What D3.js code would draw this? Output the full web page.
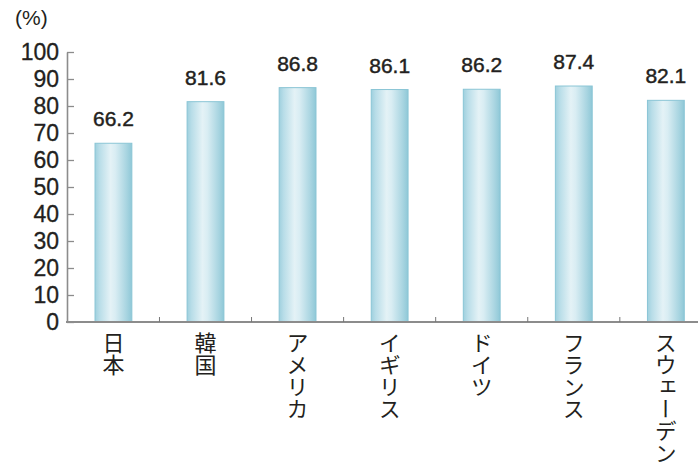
<!DOCTYPE html>
<html><head><meta charset="utf-8">
<script src="https://cdn.jsdelivr.net/npm/d3@7"></script>
<style>
html,body{margin:0;padding:0;background:#fff;}
svg{display:block;}
</style></head>
<body>
<svg id="chart" width="698" height="470"></svg>
<script>
const categories = ["日本","韓国","アメリカ","イギリス","ドイツ","フランス","スウェーデン"];
const values = [66.2, 81.6, 86.8, 86.1, 86.2, 87.4, 82.1];
const yTicks = [0,10,20,30,40,50,60,70,80,90,100];
const unitLabel = "(%)";

const svg = d3.select("#chart");
const textColor = "#231f20";
const axisColor = "#8c8c8c";
const latin = "'Liberation Sans', Arial, sans-serif";
const cjk = "'Noto Sans CJK JP', sans-serif";

const x = d3.scaleBand().domain(categories).range([67.4, 711.9]).paddingInner(0.6).paddingOuter(0.3);
const y = d3.scaleLinear().domain([0,100]).range([322, 52]);

const defs = svg.append("defs");
const grad = defs.append("linearGradient").attr("id","barGrad").attr("x1","0").attr("x2","1").attr("y1","0").attr("y2","0");
[["0%","#9fd0de"],["12%","#b8dde8"],["42%","#e4f2f6"],["55%","#d9edf3"],["85%","#a9d5e1"],["100%","#8fc8d7"]]
  .forEach(([o,c]) => grad.append("stop").attr("offset",o).attr("stop-color",c));

// bars
svg.append("g").selectAll("rect").data(categories).join("rect")
  .attr("x", d => x(d))
  .attr("y", (d,i) => y(values[i]))
  .attr("width", x.bandwidth())
  .attr("height", (d,i) => y(0) - y(values[i]))
  .attr("fill", "url(#barGrad)")
  .attr("stroke", "#8ac5d5")
  .attr("stroke-width", 1);

// value labels
svg.append("g").selectAll("text").data(categories).join("text")
  .attr("x", d => x(d) + x.bandwidth()/2)
  .attr("y", (d,i) => y(values[i]) - 17)
  .attr("text-anchor","middle")
  .attr("font-family", latin)
  .attr("font-size", 21)
  .attr("fill", textColor)
  .attr("stroke", textColor)
  .attr("stroke-width", 0.45)
  .text((d,i) => values[i].toFixed(1));

// y axis
const yAxis = d3.axisLeft(y).tickValues(yTicks).tickSizeInner(-7).tickSizeOuter(0).tickPadding(8);
const gy = svg.append("g").attr("transform","translate(67,0)").call(yAxis);
gy.select(".domain").attr("stroke", axisColor).attr("stroke-width", 1.6);
gy.selectAll(".tick line").attr("stroke", axisColor).attr("stroke-width", 1.3);
gy.selectAll(".tick text").attr("font-family", latin).attr("font-size", 23).attr("fill", textColor)
  .attr("stroke", textColor).attr("stroke-width", 0.3).attr("dy","0.34em");

// baseline
svg.append("line").attr("x1", 66).attr("x2", 698).attr("y1", y(0)).attr("y2", y(0))
  .attr("stroke", axisColor).attr("stroke-width", 2);

// x small ticks between categories
const step = x.step();
svg.append("g").selectAll("line").data(categories.slice(1)).join("line")
  .attr("x1", d => x(d) - step*x.paddingInner()/2)
  .attr("x2", d => x(d) - step*x.paddingInner()/2)
  .attr("y1", y(0) - 5).attr("y2", y(0))
  .attr("stroke", "#777").attr("stroke-width", 1);

// x labels (vertical)
svg.append("g").selectAll("text").data(categories).join("text")
  .attr("x", d => x(d) + x.bandwidth()/2)
  .attr("y", 332)
  .attr("style", "writing-mode: vertical-rl; text-orientation: upright;")
  .attr("font-family", cjk)
  .attr("font-size", 22)
  .attr("fill", textColor)
  .text(d => d);

// unit label
svg.append("text").attr("x", 15).attr("y", 25)
  .attr("font-family", latin).attr("font-size", 21).attr("fill", textColor)
  .text(unitLabel);
</script>
</body></html>
